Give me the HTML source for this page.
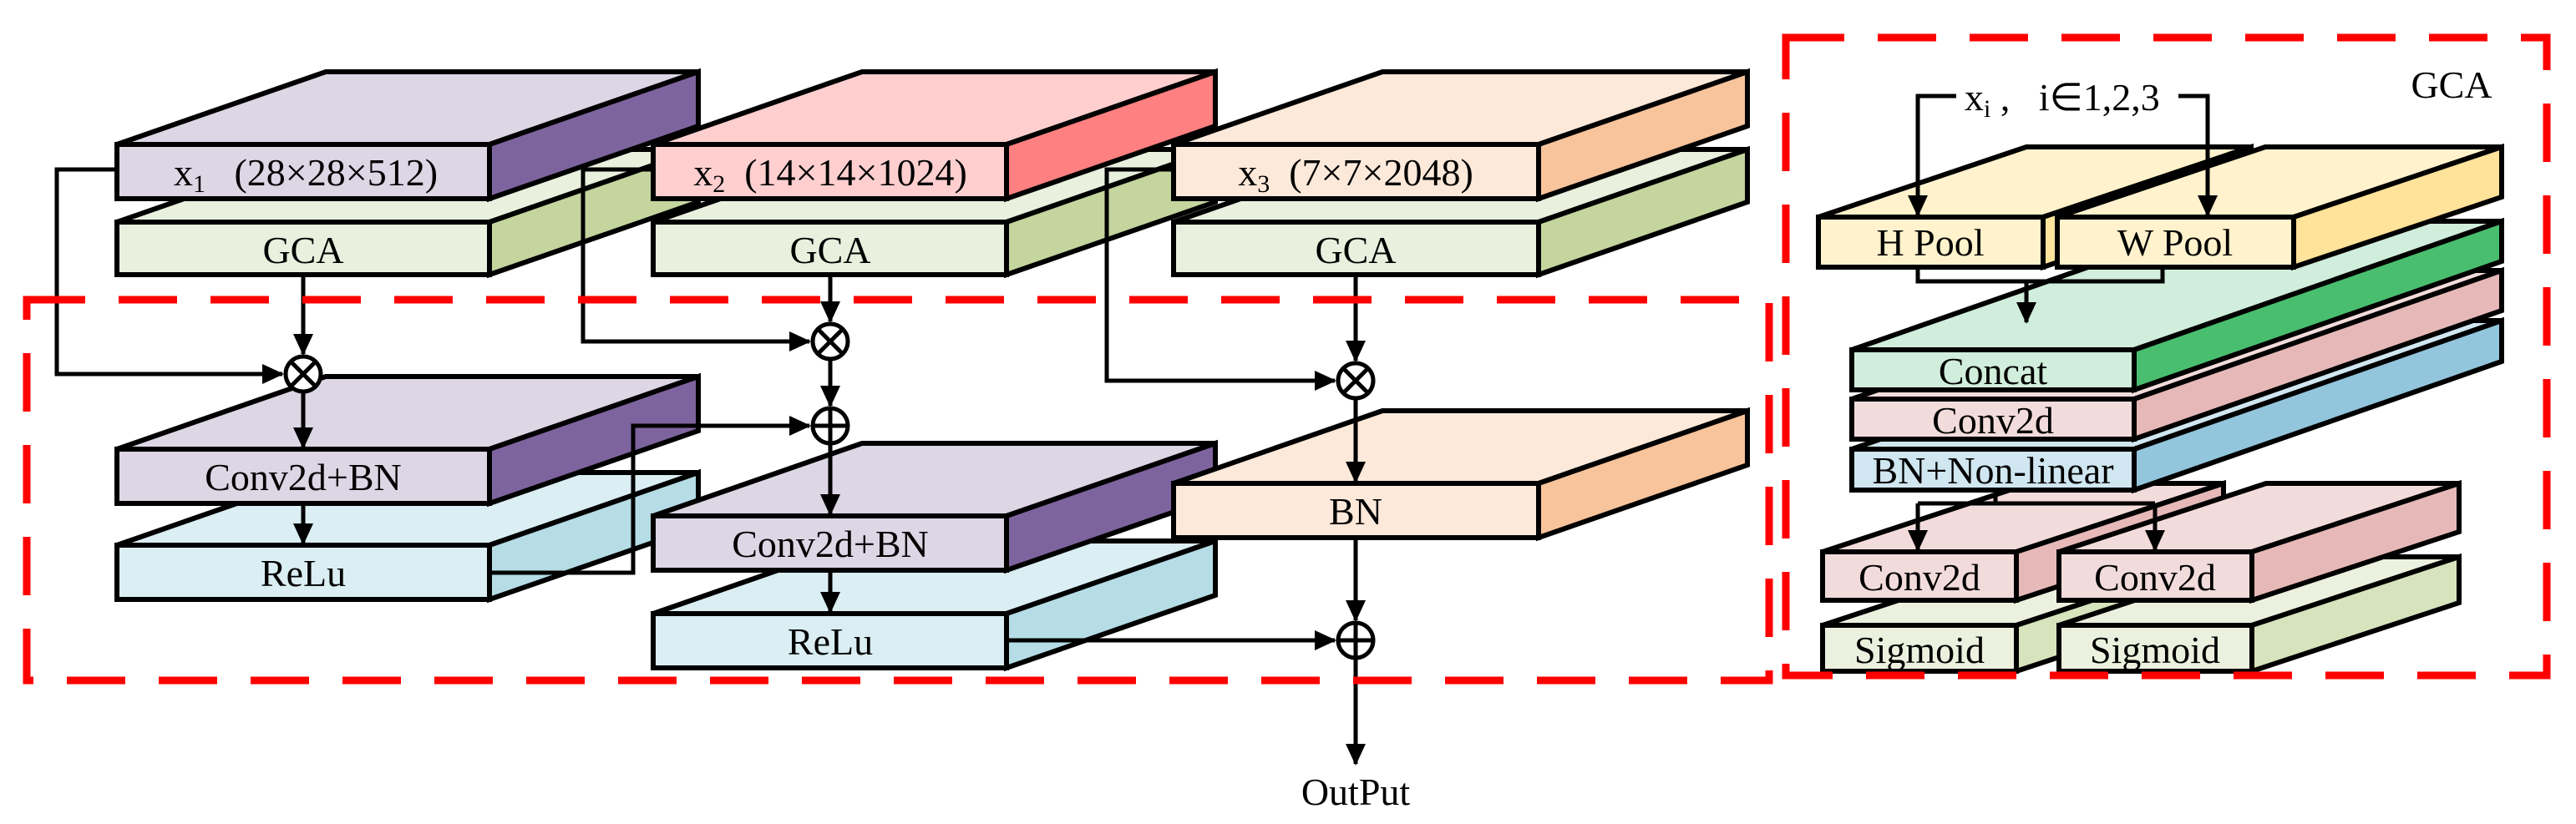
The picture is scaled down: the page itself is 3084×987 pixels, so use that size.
<!DOCTYPE html>
<html><head><meta charset="utf-8"><style>html,body{margin:0;padding:0;background:#fff}svg{display:block}text{font-family:"Liberation Serif",serif;font-size:46px;fill:#000;white-space:pre}</style></head>
<body>
<svg width="3084" height="987" viewBox="0 0 3084 987" xmlns="http://www.w3.org/2000/svg">
<defs>
<marker id="a" markerUnits="userSpaceOnUse" markerWidth="26" markerHeight="24" refX="24" refY="12" orient="auto"><path d="M0,0 L26,12 L0,24 Z" fill="#000"/></marker>
</defs>
<g stroke="#000" stroke-width="6" stroke-linejoin="miter">
<polygon points="140,266 390,179 836,179 586,266" fill="#E9F0DE"/><polygon points="586,266 836,179 836,242 586,329" fill="#C4D59E"/><rect x="140" y="266" width="446" height="63" fill="#E9F0DE"/>
<polygon points="140,173 390,86 836,86 586,173" fill="#DCD6E5"/><polygon points="586,173 836,86 836,151 586,238" fill="#7E649E"/><rect x="140" y="173" width="446" height="65" fill="#DCD6E5"/>
<polygon points="782,266 1032,179 1455,179 1205,266" fill="#E9F0DE"/><polygon points="1205,266 1455,179 1455,242 1205,329" fill="#C4D59E"/><rect x="782" y="266" width="423" height="63" fill="#E9F0DE"/>
<polygon points="782,173 1032,86 1455,86 1205,173" fill="#FFCFCF"/><polygon points="1205,173 1455,86 1455,151 1205,238" fill="#FF8080"/><rect x="782" y="173" width="423" height="65" fill="#FFCFCF"/>
<polygon points="1405,266 1655,179 2092,179 1842,266" fill="#E9F0DE"/><polygon points="1842,266 2092,179 2092,242 1842,329" fill="#C4D59E"/><rect x="1405" y="266" width="437" height="63" fill="#E9F0DE"/>
<polygon points="1405,173 1655,86 2092,86 1842,173" fill="#FCE9DA"/><polygon points="1842,173 2092,86 2092,151 1842,238" fill="#F8C49C"/><rect x="1405" y="173" width="437" height="65" fill="#FCE9DA"/>
<polygon points="140,653 390,566 836,566 586,653" fill="#DAEEF3"/><polygon points="586,653 836,566 836,631 586,718" fill="#B6DDE6"/><rect x="140" y="653" width="446" height="65" fill="#DAEEF3"/>
<polygon points="140,538 390,451 836,451 586,538" fill="#DCD6E5"/><polygon points="586,538 836,451 836,516 586,603" fill="#7E649E"/><rect x="140" y="538" width="446" height="65" fill="#DCD6E5"/>
<polygon points="782,735 1032,648 1455,648 1205,735" fill="#DAEEF3"/><polygon points="1205,735 1455,648 1455,713 1205,800" fill="#B6DDE6"/><rect x="782" y="735" width="423" height="65" fill="#DAEEF3"/>
<polygon points="782,618 1032,531 1455,531 1205,618" fill="#DCD6E5"/><polygon points="1205,618 1455,531 1455,596 1205,683" fill="#7E649E"/><rect x="782" y="618" width="423" height="65" fill="#DCD6E5"/>
<polygon points="1405,579 1655,492 2092,492 1842,579" fill="#FCE9DA"/><polygon points="1842,579 2092,492 2092,557 1842,644" fill="#F8C49C"/><rect x="1405" y="579" width="437" height="65" fill="#FCE9DA"/>

<polygon points="2182,749 2430,667 2662,667 2414,749" fill="#EBF1DE"/><polygon points="2414,749 2662,667 2662,722 2414,804" fill="#D7E3BC"/><rect x="2182" y="749" width="232" height="55" fill="#EBF1DE"/>
<polygon points="2182,661 2430,579 2662,579 2414,661" fill="#F2DCDB"/><polygon points="2414,661 2662,579 2662,637 2414,719" fill="#E6B9B8"/><rect x="2182" y="661" width="232" height="58" fill="#F2DCDB"/>
<polygon points="2465,749 2713,667 2944,667 2696,749" fill="#EBF1DE"/><polygon points="2696,749 2944,667 2944,722 2696,804" fill="#D7E3BC"/><rect x="2465" y="749" width="231" height="55" fill="#EBF1DE"/>
<polygon points="2465,661 2713,579 2944,579 2696,661" fill="#F2DCDB"/><polygon points="2696,661 2944,579 2944,637 2696,719" fill="#E6B9B8"/><rect x="2465" y="661" width="231" height="58" fill="#F2DCDB"/>
<polygon points="2217,538 2657,384 2995,384 2555,538" fill="#D0E6F0"/><polygon points="2555,538 2995,384 2995,433 2555,587" fill="#93C6DD"/><rect x="2217" y="538" width="338" height="49" fill="#D0E6F0"/>
<polygon points="2217,478 2657,324 2995,324 2555,478" fill="#F2DCDB"/><polygon points="2555,478 2995,324 2995,372 2555,526" fill="#E6B9B8"/><rect x="2217" y="478" width="338" height="48" fill="#F2DCDB"/>
<polygon points="2217,419 2657,265 2995,265 2555,419" fill="#D0EEDB"/><polygon points="2555,419 2995,265 2995,313 2555,467" fill="#49BE6E"/><rect x="2217" y="419" width="338" height="48" fill="#D0EEDB"/>
<polygon points="2177,260 2426,176 2695,176 2446,260" fill="#FFF2CC"/><polygon points="2446,260 2695,176 2695,236 2446,320" fill="#FFE39B"/><rect x="2177" y="260" width="269" height="60" fill="#FFF2CC"/>
<polygon points="2463,260 2712,176 2995,176 2746,260" fill="#FFF2CC"/><polygon points="2746,260 2995,176 2995,236 2746,320" fill="#FFE39B"/><rect x="2463" y="260" width="283" height="60" fill="#FFF2CC"/>
</g>

<g stroke="#000" stroke-width="5" fill="none">
<polyline points="140,203 68,203 68,448 338,448" marker-end="url(#a)"/>
<line x1="363" y1="329" x2="363" y2="424" marker-end="url(#a)"/>
<line x1="363" y1="470" x2="363" y2="536" marker-end="url(#a)"/>
<line x1="363" y1="603" x2="363" y2="651" marker-end="url(#a)"/>
<polyline points="586,686 758,686 758,510 969,510" marker-end="url(#a)"/>
<polyline points="782,203 698,203 698,409 969,409" marker-end="url(#a)"/>
<line x1="994" y1="329" x2="994" y2="385" marker-end="url(#a)"/>
<line x1="994" y1="431" x2="994" y2="486" marker-end="url(#a)"/>
<line x1="994" y1="532" x2="994" y2="616" marker-end="url(#a)"/>
<line x1="994" y1="683" x2="994" y2="733" marker-end="url(#a)"/>
<polyline points="1205,767 1598,767" marker-end="url(#a)"/>
<polyline points="1405,203 1325,203 1325,456 1598,456" marker-end="url(#a)"/>
<line x1="1623" y1="329" x2="1623" y2="432" marker-end="url(#a)"/>
<line x1="1623" y1="478" x2="1623" y2="577" marker-end="url(#a)"/>
<line x1="1623" y1="644" x2="1623" y2="743" marker-end="url(#a)"/>
<line x1="1623" y1="789" x2="1623" y2="915" marker-end="url(#a)"/>
<polyline points="2342,115 2296,115 2296,258" marker-end="url(#a)"/>
<polyline points="2608,115 2643,115 2643,258" marker-end="url(#a)"/>
<polyline points="2296,320 2296,337 2589,337 2589,320"/>
<line x1="2426" y1="337" x2="2426" y2="386" marker-end="url(#a)"/>
<polyline points="2389,587 2389,603"/>
<line x1="2296" y1="603" x2="2580" y2="603"/>
<line x1="2296" y1="603" x2="2296" y2="659" marker-end="url(#a)"/>
<line x1="2580" y1="603" x2="2580" y2="659" marker-end="url(#a)"/>
</g>
<g stroke="#000" stroke-width="5" fill="#fff">
<circle cx="363" cy="448" r="21"/><circle cx="994" cy="409" r="21"/><circle cx="994" cy="510" r="21"/><circle cx="1623" cy="456" r="21"/><circle cx="1623" cy="767" r="21"/>
</g>
<g stroke="#000" stroke-width="5">
<path d="M348,433 L378,463 M378,433 L348,463"/>
<path d="M979,394 L1009,424 M1009,394 L979,424"/>
<path d="M1608,441 L1638,471 M1638,441 L1608,471"/>
<path d="M973,510 H1015 M994,489 V531"/>
<path d="M1602,767 H1644 M1623,746 V788"/>
</g>
<g stroke="#FF0000" stroke-width="9" fill="none" stroke-dasharray="70,40">
<rect x="32" y="359" width="2086" height="456"/>
<rect x="2138" y="45" width="911" height="764"/>
</g>
<g text-anchor="middle">
<text x="366" y="222">x<tspan font-size="30" dy="8">1</tspan><tspan dy="-8">   (28×28×512)</tspan></text>
<text x="363" y="315">GCA</text>
<text x="994" y="222">x<tspan font-size="30" dy="8">2</tspan><tspan dy="-8">  (14×14×1024)</tspan></text>
<text x="994" y="315">GCA</text>
<text x="1623" y="222">x<tspan font-size="30" dy="8">3</tspan><tspan dy="-8">  (7×7×2048)</tspan></text>
<text x="1623" y="315">GCA</text>
<text x="363" y="587">Conv2d+BN</text>
<text x="363" y="702">ReLu</text>
<text x="994" y="667">Conv2d+BN</text>
<text x="994" y="784">ReLu</text>
<text x="1623" y="628">BN</text>
<text x="1623" y="964">OutPut</text>
<text x="2935" y="117">GCA</text>
<text x="2311" y="306">H Pool</text>
<text x="2604" y="306">W Pool</text>
<text x="2386" y="460">Concat</text>
<text x="2386" y="519">Conv2d</text>
<text x="2386" y="579">BN+Non-linear</text>
<text x="2298" y="707">Conv2d</text>
<text x="2580" y="707">Conv2d</text>
<text x="2298" y="794">Sigmoid</text>
<text x="2580" y="794">Sigmoid</text>
</g>
<text x="2352" y="132">x<tspan font-size="30" dy="8">i</tspan><tspan dy="-8"> ,   i∈1,2,3</tspan></text>
</svg>
</body></html>
